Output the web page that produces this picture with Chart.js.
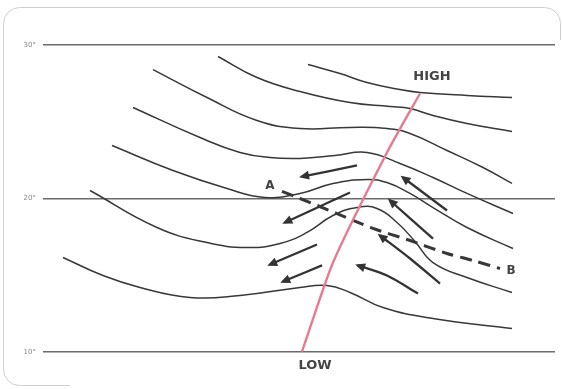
<!DOCTYPE html>
<html lang="en">
<head>
<meta charset="utf-8">
<title>Streamlines across a tropical wave</title>
<script src="https://cdn.jsdelivr.net/npm/chart.js"></script>
<style>
  html, body { margin: 0; padding: 0; background: #fff; }
  #wrap { position: relative; width: 563px; height: 389px; }
</style>
</head>
<body>
<div id="wrap"><canvas id="chart" width="563" height="389"></canvas></div>
<script>
// latitude grid
const latTicks = [10, 20, 30];

// streamlines, north to south: [x (lon units), latitude]
const stream1 = [[26.5,28.73],[29.7,28.14],[32.4,27.56],[35.7,27.10],[37.7,26.91],[42.4,26.71],[46.9,26.58]];
const stream2 = [[17.5,29.25],[21.4,27.88],[25.7,26.97],[30.7,26.25],[34.7,25.99],[36.7,25.86],[39.0,25.41],[42.4,24.89],[46.9,24.36]];
const stream3 = [[11.0,28.40],[16.4,26.58],[21.4,25.08],[25.7,24.56],[30.7,24.63],[34.4,24.56],[36.7,24.23],[40.4,23.13],[44.0,22.02],[46.9,20.98]];
const stream4 = [[9.0,25.93],[15.7,23.97],[19.7,23.00],[22.7,22.67],[25.7,22.61],[29.2,22.80],[32.4,23.00],[35.7,22.28],[39.0,21.37],[42.4,20.33],[47.0,19.02]];
const stream5 = [[6.9,23.45],[13.0,21.82],[18.4,20.65],[22.2,20.07],[25.7,20.33],[29.0,20.98],[32.4,21.24],[34.4,21.04],[36.7,20.33],[39.0,19.41],[42.4,18.11],[47.0,16.74]];
const stream6 = [[4.7,20.52],[11.4,18.11],[16.4,17.13],[20.4,16.81],[23.7,17.07],[26.4,17.79],[29.0,18.89],[31.4,19.41],[33.4,19.35],[35.4,18.44],[37.2,17.20],[39.0,15.83],[42.4,14.85],[46.9,13.88]];
const stream7 = [[2.0,16.16],[6.0,14.98],[9.7,14.20],[14.7,13.55],[19.7,13.68],[25.7,14.20],[28.4,14.33],[30.7,13.88],[34.0,12.90],[39.0,12.18],[46.9,11.53]];

// trough axis (low to high)
const troughAxis = [[25.9,10.03],[29.0,15.83],[34.4,23.00],[37.7,26.84]];

// line A-B
const sectionAB = [[23.9,20.46],[25.7,20.00],[29.4,19.02],[33.0,18.05],[36.4,17.33],[40.4,16.42],[43.0,15.96],[45.7,15.44]];

// wind arrows, tail -> head
const windW1 = [[31.4,22.15],[25.9,21.43]];
const windW2 = [[30.7,20.39],[24.2,18.44]];
const windW3 = [[27.4,17.00],[22.7,15.70]];
const windW4 = [[27.9,15.64],[24.0,14.59]];
const windE1 = [[40.4,19.22],[36.0,21.37]];
const windE2 = [[39.0,17.39],[34.7,19.87]];
const windE3 = [[39.7,14.46],[36.7,16.09],[33.7,17.59]];
const windE4 = [[37.5,13.81],[34.4,14.98],[31.5,15.64]];

// text labels
const labelText = ['HIGH', 'LOW', 'A', 'B'];
const labelX = [38.9, 27.2, 22.7, 46.8];
const labelY = [27.95, 9.12, 20.85, 15.31];

const toXY = pts => pts.map(p => ({ x: p[0], y: p[1] }));

const streams = [stream1, stream2, stream3, stream4, stream5, stream6, stream7];
const arrows = [windW1, windW2, windW3, windW4, windE1, windE2, windE3, windE4];

const datasets = [];
datasets.push({
    data: toXY(troughAxis),
    borderColor: '#e87a90',
    borderWidth: 2.4,
    tension: 0.2,
    order: -1
});
streams.forEach(s => datasets.push({
    data: toXY(s),
    borderColor: '#383838',
    borderWidth: 1.5,
    tension: 0.45
}));
datasets.push({
    data: toXY(sectionAB),
    borderColor: '#383838',
    borderWidth: 3,
    borderDash: [12, 7],
    tension: 0.3
});
arrows.forEach(a => datasets.push({
    data: toXY(a),
    borderColor: '#333',
    borderWidth: 2.3,
    tension: 0.3,
    arrow: true
}));

// frame around the figure
const framePlugin = {
    id: 'frame',
    beforeDraw(chart) {
        const ctx = chart.ctx;
        ctx.save();
        ctx.fillStyle = '#fff';
        ctx.fillRect(0, 0, chart.width, chart.height);
        ctx.strokeStyle = '#cfcfcf';
        ctx.lineWidth = 1;
        ctx.beginPath();
        ctx.moveTo(70, 385.5);
        ctx.lineTo(19.5, 385.5);
        ctx.arcTo(3.5, 385.5, 3.5, 369.5, 16);
        ctx.lineTo(3.5, 23.5);
        ctx.arcTo(3.5, 7.5, 19.5, 7.5, 16);
        ctx.lineTo(544.5, 7.5);
        ctx.arcTo(560.5, 7.5, 560.5, 23.5, 16);
        ctx.lineTo(560.5, 40);
        ctx.stroke();
        ctx.restore();
    }
};

// arrow heads at the last point of flagged datasets
const arrowPlugin = {
    id: 'arrowHeads',
    afterDatasetsDraw(chart) {
        const ctx = chart.ctx;
        chart.data.datasets.forEach((ds, i) => {
            if (!ds.arrow) return;
            const pts = chart.getDatasetMeta(i).data;
            const a = pts[pts.length - 2], b = pts[pts.length - 1];
            const ang = Math.atan2(b.y - a.y, b.x - a.x);
            ctx.save();
            ctx.translate(b.x, b.y);
            ctx.rotate(ang);
            ctx.beginPath();
            ctx.moveTo(3, 0);
            ctx.lineTo(-7, -4.5);
            ctx.lineTo(-7, 4.5);
            ctx.closePath();
            ctx.fillStyle = ds.borderColor;
            ctx.fill();
            ctx.restore();
        });
    }
};

// HIGH / LOW / A / B
const labelPlugin = {
    id: 'labels',
    afterDraw(chart) {
        const ctx = chart.ctx;
        const xs = chart.scales.x, ys = chart.scales.y;
        ctx.save();
        ctx.fillStyle = '#444';
        ctx.textAlign = 'center';
        ctx.textBaseline = 'middle';
        labelText.forEach((t, i) => {
            ctx.font = (t.length > 1 ? 'bold 13px' : 'bold 12px') + ' "DejaVu Sans", sans-serif';
            ctx.fillText(t, xs.getPixelForValue(labelX[i]), ys.getPixelForValue(labelY[i]));
        });
        ctx.restore();
    }
};

new Chart(document.getElementById('chart'), {
    type: 'scatter',
    data: { datasets: datasets },
    options: {
        responsive: false,
        animation: false,
        showLine: true,
        elements: { point: { radius: 0, hoverRadius: 0 } },
        layout: { padding: { top: 29.65, bottom: 21.65, right: 8, left: 0 } },
        plugins: { legend: { display: false }, tooltip: { enabled: false } },
        scales: {
            x: { type: 'linear', min: 0, max: 51.2, display: false },
            y: {
                type: 'linear',
                min: 9,
                max: 31,
                afterBuildTicks(scale) {
                    scale.ticks = latTicks.map(v => ({ value: v }));
                },
                afterFit(scale) { scale.width = 43; },
                border: { display: false },
                grid: { color: '#6a6a6a', lineWidth: 1.4, drawTicks: false },
                ticks: {
                    padding: 7,
                    color: '#888',
                    font: { size: 7, family: '"DejaVu Sans", sans-serif' },
                    callback: v => v + '°'
                }
            }
        }
    },
    plugins: [framePlugin, arrowPlugin, labelPlugin]
});
</script>
</body>
</html>
